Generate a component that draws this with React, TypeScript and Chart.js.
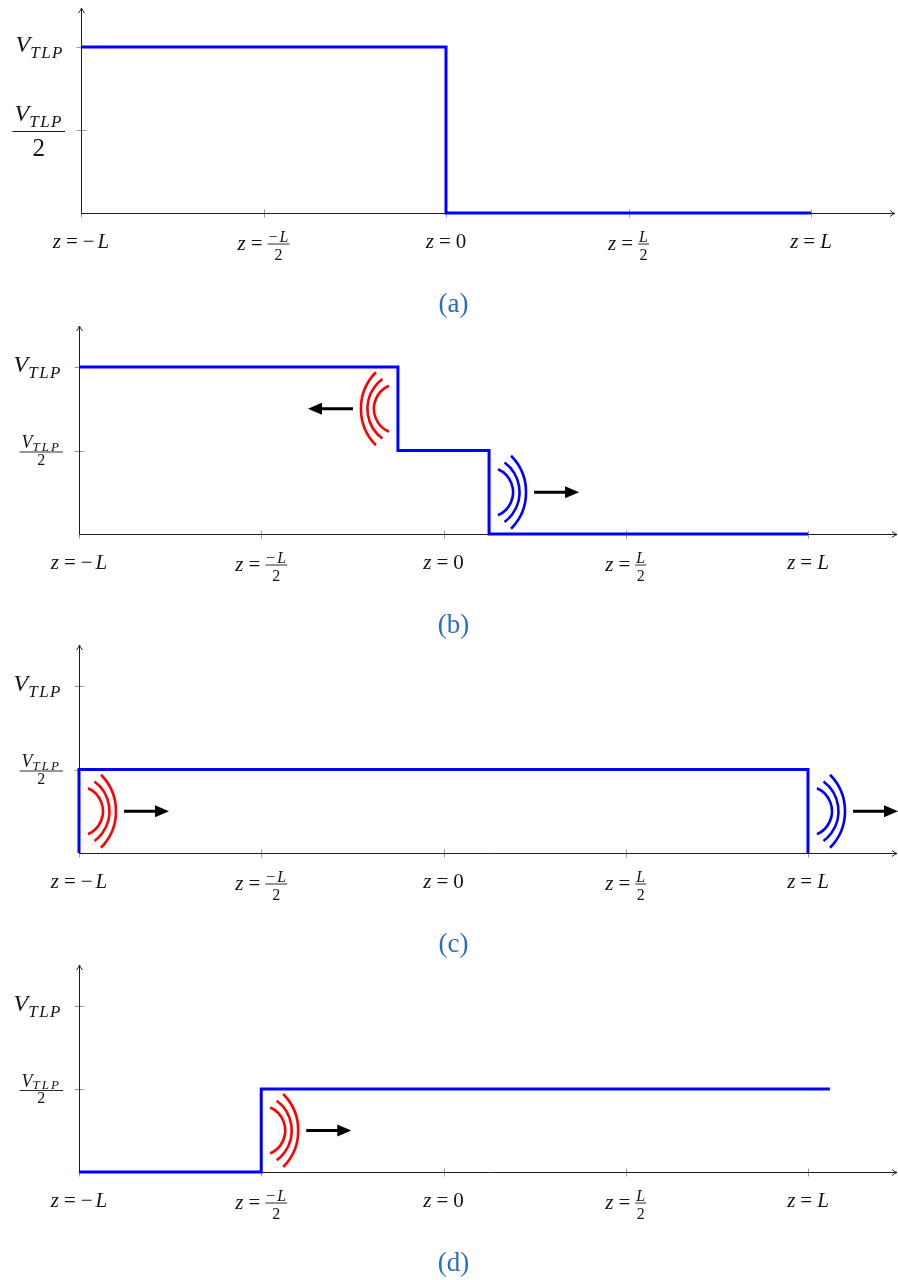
import { useEffect, useRef } from 'react';
import { Chart, registerables } from 'chart.js';

Chart.register(...registerables);

// Positions along the line (units of L) and their labels
const zTicks = [-1, -0.5, 0, 0.5, 1];
const zTickLabels = ['z=−L', 'z=−L/2', 'z=0', 'z=L/2', 'z=L'];
// Voltage levels (units of V_TLP) and their labels
const vTicks = [0.5, 1];
const vTickLabels = ['V_TLP/2', 'V_TLP'];

// (a) left half charged, right half at rest
const zA = [-1, 0, 0, 1];
const vA = [1, 1, 0, 0];
// (b) two fronts running apart from the middle
const zB = [-1, -0.125, -0.125, 0.125, 0.125, 1];
const vB = [1, 1, 0.5, 0.5, 0, 0];
// (c) whole line at half level, fronts at both ends
const zC = [-1, -1, 1, 1];
const vC = [0, 0.5, 0.5, 0];
// (d) reflected front coming back in from the left end
const zD = [-1, -0.5, -0.5, 1.06];
const vD = [0, 0, 0.5, 0.5];

type Front = { z: number; dir: 1 | -1; tone: 'red' | 'blue' };
const frontsA: Front[] = [];
const frontsB: Front[] = [
  { z: -0.125, dir: -1, tone: 'red' },
  { z: 0.125, dir: 1, tone: 'blue' },
];
const frontsC: Front[] = [
  { z: -1, dir: 1, tone: 'red' },
  { z: 1, dir: 1, tone: 'blue' },
];
const frontsD: Front[] = [{ z: -0.5, dir: 1, tone: 'red' }];

const captions = ['(a)', '(b)', '(c)', '(d)'];

const PANELS = [
  { z: zA, v: vA, fronts: frontsA, caption: captions[0] },
  { z: zB, v: vB, fronts: frontsB, caption: captions[1] },
  { z: zC, v: vC, fronts: frontsC, caption: captions[2] },
  { z: zD, v: vD, fronts: frontsD, caption: captions[3] },
];

// ---- geometry of each panel (pixels inside its own canvas) ----
const W = 898;
const H = 320;
const LAYOUT = [
  { left: 81, right: 895, top: 8, axis: 213, unitV: 166, unitZ: 365, bigFrac: true },
  { left: 79, right: 897, top: 6, axis: 214, unitV: 167, unitZ: 364.5, bigFrac: false },
  { left: 79, right: 897, top: 5, axis: 213, unitV: 167, unitZ: 364.5, bigFrac: false },
  { left: 79, right: 897, top: 5, axis: 212, unitV: 166, unitZ: 364.5, bigFrac: false },
];

const SERIF = '"Liberation Serif", "Times New Roman", serif';
const fontOf = (size: number, italic: boolean) => `${italic ? 'italic ' : ''}${size}px ${SERIF}`;

type Run = { s: string; size: number; italic: boolean; dy: number; pre: number; post: number; track: number };

// Turn "z=−L" or "V_TLP" into styled pieces: letters italic, symbols upright
function mathRuns(str: string, size: number, eqGap = 0, subSize = 0, subDy = 0, subTrack = 0, minusGap = 0): Run[] {
  const runs: Run[] = [];
  const [base, sub] = str.split('_');
  for (const ch of base) {
    const letter = /[A-Za-z]/.test(ch);
    const eq = ch === '=';
    const minus = ch === '−';
    runs.push({ s: ch, size, italic: letter, dy: 0, pre: eq ? eqGap : 0, post: eq ? eqGap : minus ? minusGap : 0, track: 0 });
  }
  if (sub) runs.push({ s: sub, size: subSize, italic: true, dy: subDy, pre: 0, post: 0, track: subTrack });
  return runs;
}

function runsWidth(ctx: CanvasRenderingContext2D, runs: Run[]) {
  let w = 0;
  for (const r of runs) {
    ctx.font = fontOf(r.size, r.italic);
    w += r.pre + r.post;
    for (const ch of r.s) w += ctx.measureText(ch).width + r.track;
  }
  return w;
}

function drawRuns(ctx: CanvasRenderingContext2D, runs: Run[], x: number, baseline: number) {
  let cx = x;
  for (const r of runs) {
    ctx.font = fontOf(r.size, r.italic);
    cx += r.pre;
    for (const ch of r.s) {
      ctx.fillText(ch, cx, baseline + r.dy);
      cx += ctx.measureText(ch).width + r.track;
    }
    cx += r.post;
  }
}

function seg(ctx: CanvasRenderingContext2D, x1: number, y1: number, x2: number, y2: number) {
  ctx.beginPath();
  ctx.moveTo(x1, y1);
  ctx.lineTo(x2, y2);
  ctx.stroke();
}

function makeOverlay(panel: (typeof PANELS)[number], lay: (typeof LAYOUT)[number]) {
  return {
    id: 'tlpOverlay',
    beforeDatasetsDraw(chart: any) {
      const { ctx } = chart;
      const x = chart.scales.x;
      const y = chart.scales.y;
      const x0 = Math.round(x.getPixelForValue(-1)) + 0.5;
      const y0 = Math.round(y.getPixelForValue(0)) + 0.5;
      const xEnd = x.getPixelForValue(x.max);
      const yTop = y.getPixelForValue(y.max);
      ctx.save();
      // tick marks
      ctx.strokeStyle = '#9a9a9a';
      ctx.lineWidth = 1;
      zTicks.forEach((z) => {
        const px = Math.round(x.getPixelForValue(z)) + 0.5;
        seg(ctx, px, y0 - 4, px, y0 + 4);
      });
      vTicks.forEach((v) => {
        const py = Math.round(y.getPixelForValue(v)) + 0.5;
        seg(ctx, x0 - 5, py, x0 + 5, py);
      });
      // axes with arrow tips
      ctx.strokeStyle = '#1e1e1e';
      seg(ctx, x0, y0, xEnd, y0);
      seg(ctx, x0, y0, x0, yTop);
      ctx.beginPath();
      ctx.moveTo(xEnd - 5, y0 - 3);
      ctx.quadraticCurveTo(xEnd - 2, y0 - 0.5, xEnd, y0);
      ctx.quadraticCurveTo(xEnd - 2, y0 + 0.5, xEnd - 5, y0 + 3);
      ctx.stroke();
      ctx.beginPath();
      ctx.moveTo(x0 - 3, yTop + 5);
      ctx.quadraticCurveTo(x0 - 0.5, yTop + 2, x0, yTop);
      ctx.quadraticCurveTo(x0 + 0.5, yTop + 2, x0 + 3, yTop + 5);
      ctx.stroke();
      ctx.restore();
    },
    afterDatasetsDraw(chart: any) {
      const { ctx } = chart;
      const x = chart.scales.x;
      const y = chart.scales.y;
      const x0 = x.getPixelForValue(-1);
      const y0 = y.getPixelForValue(0);
      ctx.save();

      // wave fronts: three arcs on the step plus a travel arrow
      panel.fronts.forEach((f) => {
        const levels = panel.z.map((z, i) => (z === f.z ? panel.v[i] : NaN)).filter((v) => !isNaN(v));
        const lo = Math.min(...levels);
        const hi = Math.max(...levels);
        const sx = x.getPixelForValue(f.z);
        const cy = (y.getPixelForValue(lo) + y.getPixelForValue(hi)) / 2;
        const d = f.dir;
        const gap = 9;
        const sag = 15;
        ctx.strokeStyle = f.tone === 'red' ? '#ff0000' : '#0000ff';
        ctx.lineWidth = 2.6;
        ctx.lineCap = 'butt';
        for (let i = 0; i < 3; i++) {
          const half = 23 + 6.75 * i;
          const ex = sx + d * (gap + 6.5 * i);
          const r = (half * half + sag * sag) / (2 * sag);
          const cx = ex + d * sag - d * r;
          const th = Math.asin(half / r);
          ctx.beginPath();
          if (d > 0) ctx.arc(cx, cy, r, -th, th);
          else ctx.arc(cx, cy, r, Math.PI - th, Math.PI + th);
          ctx.stroke();
        }
        const outer = sx + d * (gap + 13 + sag);
        const tail = outer + d * 8;
        const tip = tail + d * 45;
        ctx.strokeStyle = '#000';
        ctx.fillStyle = '#000';
        ctx.lineWidth = 3;
        seg(ctx, tail, cy, tip - d * 12, cy);
        ctx.beginPath();
        ctx.moveTo(tip, cy);
        ctx.lineTo(tip - d * 14, cy - 6);
        ctx.lineTo(tip - d * 14, cy + 6);
        ctx.closePath();
        ctx.fill();
      });

      ctx.fillStyle = '#151515';
      ctx.strokeStyle = '#151515';
      ctx.textAlign = 'left';
      ctx.textBaseline = 'alphabetic';

      // position labels under the axis
      zTicks.forEach((z, i) => {
        const label = zTickLabels[i];
        const px = x.getPixelForValue(z);
        const slash = label.indexOf('/');
        if (slash < 0) {
          const runs = mathRuns(label, 21, 5, 0, 0, 0, 3);
          const w = runsWidth(ctx, runs);
          drawRuns(ctx, runs, px - w / 2, y0 + 35);
        } else {
          const eq = label.indexOf('=');
          const head = mathRuns(label.slice(0, eq + 1), 21, 5);
          const num = mathRuns(label.slice(eq + 1, slash), 16, 0, 0, 0, 0, 2);
          const den = mathRuns(label.slice(slash + 1), 16);
          const hw = runsWidth(ctx, head);
          const nw = runsWidth(ctx, num);
          const dw = runsWidth(ctx, den);
          const fw = Math.max(nw, dw) + 2;
          const left = px - (hw + fw) / 2;
          drawRuns(ctx, head, left, y0 + 37);
          const fx = left + hw;
          const barY = y0 + 31;
          ctx.lineWidth = 0.9;
          seg(ctx, fx, barY, fx + fw, barY);
          drawRuns(ctx, num, fx + (fw - nw) / 2, barY - 2.5);
          drawRuns(ctx, den, fx + (fw - dw) / 2, barY + 16);
        }
      });

      // voltage labels left of the axis
      const rightX = x0 - 17;
      vTicks.forEach((v, i) => {
        const label = vTickLabels[i];
        const py = y.getPixelForValue(v);
        const slash = label.indexOf('/');
        if (slash < 0) {
          const runs = mathRuns(label, 24, 0, 17, 6, 1.5);
          const w = runsWidth(ctx, runs);
          drawRuns(ctx, runs, rightX - w, py + 5);
        } else {
          const numText = label.slice(0, slash);
          const denText = label.slice(slash + 1);
          const big = lay.bigFrac;
          const num = big ? mathRuns(numText, 24, 0, 17, 6, 1.5) : mathRuns(numText, 18, 0, 13, 2.5, 2);
          const den = mathRuns(denText, big ? 25 : 16);
          const nw = runsWidth(ctx, num);
          const dw = runsWidth(ctx, den);
          const fw = Math.max(nw, dw) + 4;
          const fx = x0 - 16 - fw;
          const barY = py + 1.5;
          ctx.lineWidth = big ? 1.1 : 0.9;
          seg(ctx, fx, barY, fx + fw, barY);
          drawRuns(ctx, num, fx + (fw - nw) / 2, big ? py - 9 : py - 2.5);
          drawRuns(ctx, den, fx + (fw - dw) / 2, big ? py + 26 : py + 14);
        }
      });

      // panel caption
      ctx.font = `27px ${SERIF}`;
      ctx.fillStyle = '#2a6fbb';
      ctx.textAlign = 'center';
      ctx.fillText(panel.caption, 453.5, y0 + 99);
      ctx.restore();
    },
  };
}

function Panel({ index }: { index: number }) {
  const ref = useRef<HTMLCanvasElement>(null);
  useEffect(() => {
    const canvas = ref.current;
    if (!canvas) return;
    const panel = PANELS[index];
    const lay = LAYOUT[index];
    const zMax = -1 + (lay.right - lay.left) / lay.unitZ;
    const vMax = (lay.axis - lay.top) / lay.unitV;
    const chart = new Chart(canvas, {
      type: 'line',
      data: {
        datasets: [
          {
            data: panel.z.map((z, i) => ({ x: z, y: panel.v[i] })),
            borderColor: '#0000ff',
            borderWidth: 3,
            pointRadius: 0,
            tension: 0,
            fill: false,
            clip: false as any,
            borderJoinStyle: 'miter',
          },
        ],
      },
      options: {
        responsive: false,
        animation: false,
        events: [],
        layout: { padding: { left: lay.left, right: W - lay.right, top: lay.top, bottom: H - lay.axis } },
        scales: {
          x: { type: 'linear', min: -1, max: zMax, display: false },
          y: { type: 'linear', min: 0, max: vMax, display: false },
        },
        plugins: { legend: { display: false }, tooltip: { enabled: false } },
      },
      plugins: [makeOverlay(panel, lay)],
    });
    return () => chart.destroy();
  }, [index]);
  return (
    <canvas
      ref={ref}
      width={W}
      height={H}
      style={{ position: 'absolute', left: 0, top: index * H, width: W, height: H, display: 'block' }}
    />
  );
}

export default function App() {
  return (
    <div style={{ position: 'absolute', left: 0, top: 0, width: W, height: 4 * H, background: '#fff' }}>
      {PANELS.map((_, i) => (
        <Panel key={i} index={i} />
      ))}
    </div>
  );
}
